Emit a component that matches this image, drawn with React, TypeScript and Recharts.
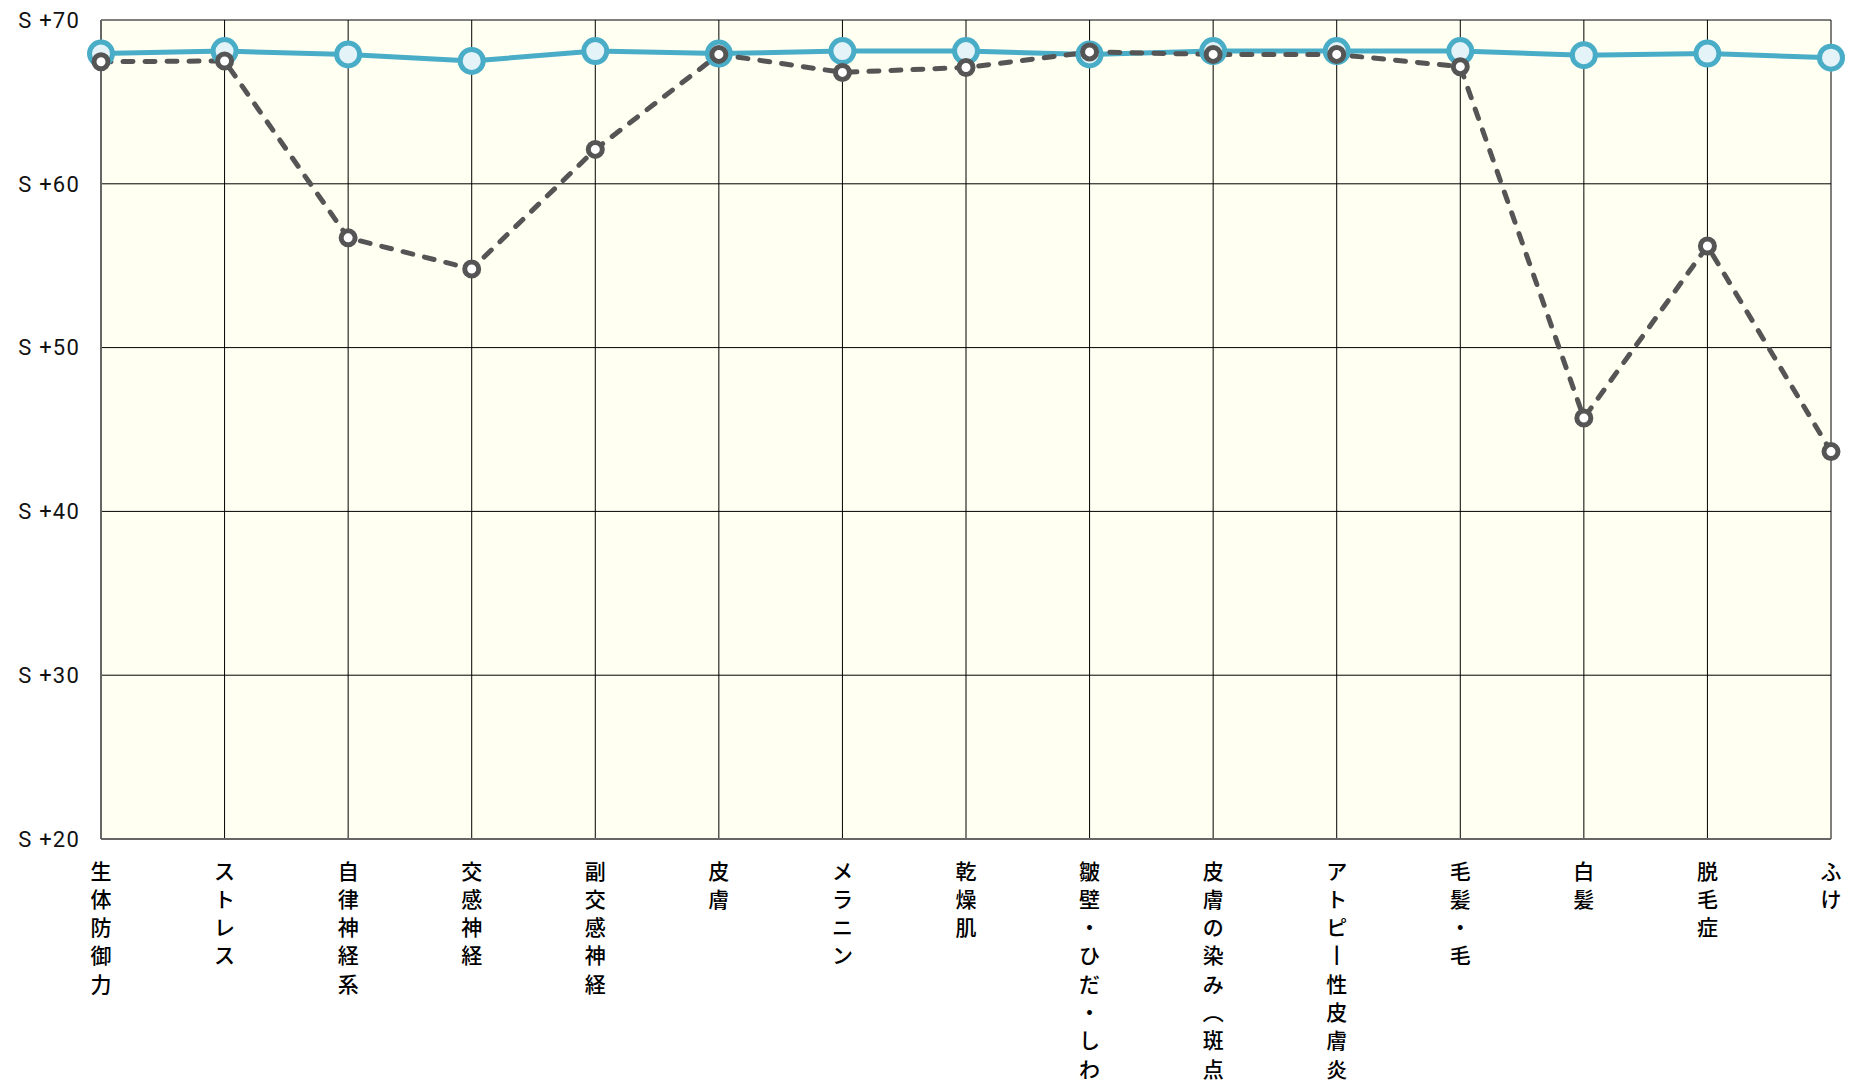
import { ReactElement } from 'react'
import { LineChart, Line, XAxis, YAxis, CartesianGrid } from 'recharts'

const categories = [
   '生体防御力', 'ストレス', '自律神経系', '交感神経', '副交感神経',
   '皮膚', 'メラニン', '乾燥肌', '皺壁・ひだ・しわ', '皮膚の染み（斑点）',
   'アトピー性皮膚炎', '毛髪・毛', '白髪', '脱毛症', 'ふけ'
]
const seriesBlue = [67.95, 68.1, 67.9, 67.5, 68.1, 67.95, 68.1, 68.1, 67.9, 68.1, 68.1, 68.1, 67.85, 67.95, 67.7]
const seriesGrey = [67.45, 67.5, 56.7, 54.8, 62.1, 67.9, 66.8, 67.1, 68.05, 67.9, 67.9, 67.15, 45.7, 56.2, 43.65]
const yTicks = [20, 30, 40, 50, 60, 70]

const data = categories.map((name, i) => ({ name, blue: seriesBlue[i], grey: seriesGrey[i] }))

const fontLatin = 'Roboto, "Noto Sans CJK JP", sans-serif'
const fontJp = '"Noto Sans CJK JP", sans-serif'
const colorBlue = '#4aadc7'
const colorGrey = '#555'

// vertical forms for the few glyphs that rotate in tategaki
const verticalForm: Record<string, string> = { 'ー': '丨', '（': '︵', '）': '︶' }

const VerticalTick = (props: any): ReactElement => {
   const { x, y, payload } = props
   const chars = Array.from(String(payload.value))
   return (
      <g>
         { chars.map((c, i) => (
            <text
               key={ i }
               x={ x }
               y={ y + 30.5 + i * 28.3 }
               textAnchor='middle'
               dominantBaseline='central'
               fontSize={ 21 }
               fontWeight={ 500 }
               fontFamily={ fontJp }
               fill='#000'
            >
               { verticalForm[c] ?? c }
            </text>
         )) }
      </g>
   )
}

export default function App(): ReactElement {
   return (
      <div style={{ position: 'absolute', left: 0, top: 0, width: 1855, height: 1083, background: '#fff' }}>
         <LineChart
            width={ 1855 }
            height={ 1083 }
            data={ data }
            margin={{ top: 20, right: 24, left: 0, bottom: 0 }}
         >
            <CartesianGrid stroke='#000' strokeWidth={ 1 } fill='#fffff2' fillOpacity={ 1 } />

            <XAxis
               dataKey='name'
               interval={ 0 }
               height={ 244 }
               tickLine={ false }
               tickSize={ 0 }
               tickMargin={ 0 }
               stroke='#666'
               strokeWidth={ 2 }
               tick={ <VerticalTick /> }
            />

            <YAxis
               type='number'
               domain={ [20, 70] }
               ticks={ yTicks }
               width={ 101 }
               tickLine={ false }
               tickSize={ 0 }
               tickMargin={ 21 }
               stroke='#666'
               strokeWidth={ 2 }
               tick={{ fontSize: 22, fill: '#111', fontFamily: fontLatin, letterSpacing: 1.2 }}
               tickFormatter={ (v: number) => `S +${ v }` }
            />

            <Line
               type='linear'
               dataKey='blue'
               stroke={ colorBlue }
               strokeWidth={ 5 }
               dot={{ r: 11.5, fill: '#e4f3f8', stroke: colorBlue, strokeWidth: 5 }}
               isAnimationActive={ false }
            />

            <Line
               type='linear'
               dataKey='grey'
               stroke={ colorGrey }
               strokeWidth={ 5 }
               strokeDasharray='10 12'
               strokeLinecap='round'
               dot={{ r: 7, fill: '#fff', stroke: colorGrey, strokeWidth: 5, strokeDasharray: '' }}
               isAnimationActive={ false }
            />
         </LineChart>
      </div>
   )
}
